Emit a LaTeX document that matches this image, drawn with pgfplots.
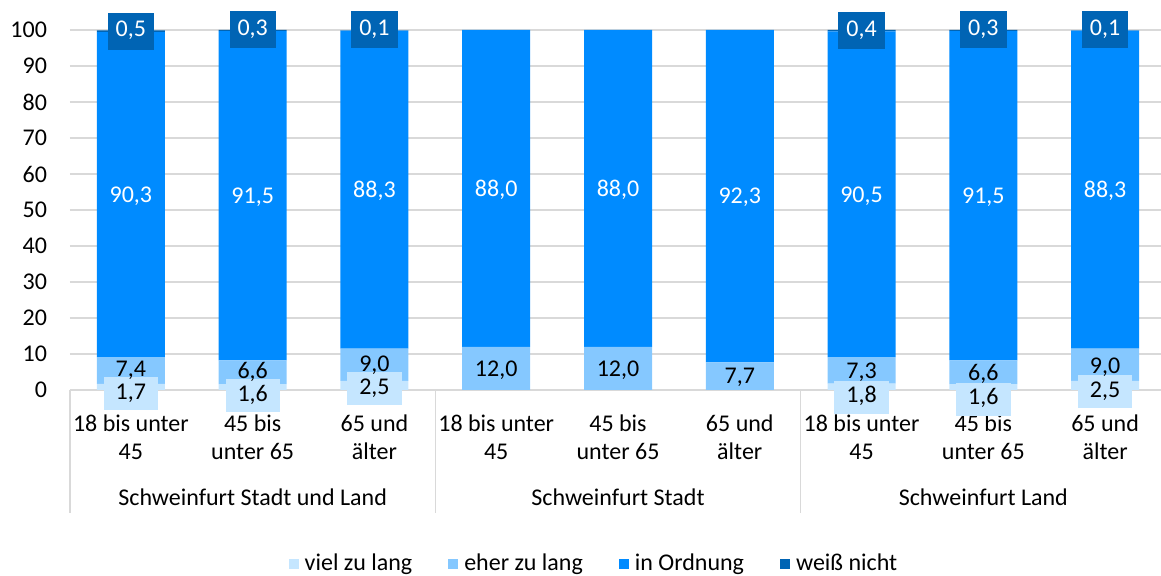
\documentclass[border=0pt]{standalone}
\usepackage{fontspec}
\setmainfont{Carlito}
\usepackage{pgfplots}
\pgfplotsset{compat=1.18}
\definecolor{cA}{HTML}{C5E6FF}
\definecolor{cB}{HTML}{85C8FF}
\definecolor{cC}{HTML}{008BFF}
\definecolor{cD}{HTML}{0064B4}
\definecolor{gridgray}{HTML}{D9D9D9}
\newcommand{\fs}{\fontsize{12}{14}\selectfont}
\begin{document}
\begin{tikzpicture}
\begin{axis}[
  name=ax, at={(0,0)}, anchor=south west,
  width=548pt, height=180pt, scale only axis,
  xmin=-0.5, xmax=8.5, ymin=0, ymax=100,
  ybar stacked, bar width=34pt,
  axis line style={draw=none},
  tick style={draw=none},
  ymajorgrids, grid style={color=gridgray, line width=0.75pt},
  ytick={0,10,...,100},
  /pgf/number format/assume math mode=true,
  yticklabel style={font=\fs, xshift=-8pt},
  xtick={0,...,8},
  xticklabels={{18 bis unter\\45},{45 bis\\unter 65},{65 und\\älter},{18 bis unter\\45},{45 bis\\unter 65},{65 und\\älter},{18 bis unter\\45},{45 bis\\unter 65},{65 und\\älter}},
  xticklabel style={font=\fs, align=center, anchor=north, yshift=-9pt},
  legend columns=4,
  legend style={draw=none, fill=none, font=\fs, at={(0.479,0)}, anchor=center, yshift=-87pt,
    /tikz/every even column/.append style={column sep=16pt},
    /tikz/every odd column/.append style={column sep=1pt}},
  legend image code/.code={\fill[#1,draw=none] (0pt,-2.5pt) rectangle (5pt,2.5pt);},
]
\addplot[fill=cA, draw=none] coordinates {(0,1.7)(1,1.6)(2,2.5)(3,0)(4,0)(5,0)(6,1.8)(7,1.6)(8,2.5)};
\addplot[fill=cB, draw=none] coordinates {(0,7.4)(1,6.6)(2,9.0)(3,12.0)(4,12.0)(5,7.7)(6,7.3)(7,6.6)(8,9.0)};
\addplot[fill=cC, draw=none] coordinates {(0,90.3)(1,91.5)(2,88.3)(3,88.0)(4,88.0)(5,92.3)(6,90.5)(7,91.5)(8,88.3)};
\addplot[fill=cD, draw=none] coordinates {(0,0.5)(1,0.3)(2,0.1)(3,0)(4,0)(5,0)(6,0.4)(7,0.3)(8,0.1)};
\legend{viel zu lang, eher zu lang, in Ordnung, weiß nicht}
\end{axis}
\begin{axis}[
  at={(0,0)}, anchor=south west,
  width=548pt, height=180pt, scale only axis,
  xmin=-0.5, xmax=8.5, ymin=0, ymax=100,
  hide axis, clip=false,
  nodes near coords, point meta=explicit symbolic,
  every node near coord/.append style={anchor=center, font=\fs, text height=8pt, text depth=2.5pt, inner ysep=4pt},
]
\addplot[draw=none, mark=none, nodes near coords style={fill=cA, text=black, inner xsep=6pt, inner ysep=3pt}] coordinates {
 (0,-1.0)[1{,}7] (1,-1.6)[1{,}6] (2,0.3)[2{,}5] (6,-2.0)[1{,}8] (7,-2.6)[1{,}6] (8,-0.5)[2{,}5]};
\addplot[draw=none, mark=none, nodes near coords style={text=black, inner xsep=1pt, inner ysep=0pt, text height=8pt, text depth=0pt}] coordinates {
 (0,5.9)[7{,}4] (1,5.4)[6{,}6] (2,7.3)[9{,}0] (3,5.9)[12{,}0] (4,5.9)[12{,}0] (5,4.0)[7{,}7] (6,5.3)[7{,}3] (7,4.9)[6{,}6] (8,6.7)[9{,}0]};
\addplot[draw=none, mark=none, nodes near coords style={text=white}] coordinates {
 (0,53.5)[90{,}3] (1,53.3)[91{,}5] (2,55.0)[88{,}3] (3,55.3)[88{,}0] (4,55.3)[88{,}0] (5,53.2)[92{,}3] (6,53.6)[90{,}5] (7,53.3)[91{,}5] (8,55.0)[88{,}3]};
\addplot[draw=none, mark=none, nodes near coords style={fill=cD, text=white, inner xsep=4pt}] coordinates {
 (0,99.7)[0{,}5] (1,100)[0{,}3] (2,100)[0{,}1] (6,99.8)[0{,}4] (7,100)[0{,}3] (8,100)[0{,}1]};
\draw[gridgray, line width=0.75pt] (axis cs:-0.5,0) -- ([yshift=-61.5pt]axis cs:-0.5,0);
\draw[gridgray, line width=0.75pt] (axis cs:2.5,0) -- ([yshift=-61.5pt]axis cs:2.5,0);
\draw[gridgray, line width=0.75pt] (axis cs:5.5,0) -- ([yshift=-61.5pt]axis cs:5.5,0);
\draw[gridgray, line width=0.75pt] (axis cs:8.5,0) -- ([yshift=-61.5pt]axis cs:8.5,0);
\node[font=\fs] at (axis cs:1,0) [yshift=-53.5pt] {Schweinfurt Stadt und Land};
\node[font=\fs] at (axis cs:4,0) [yshift=-53.5pt] {Schweinfurt Stadt};
\node[font=\fs] at (axis cs:7,0) [yshift=-53.5pt] {Schweinfurt Land};
\end{axis}
\pgfresetboundingbox
\path (-35pt,-93pt) rectangle (545.5pt,195pt);
\end{tikzpicture}
\end{document}
